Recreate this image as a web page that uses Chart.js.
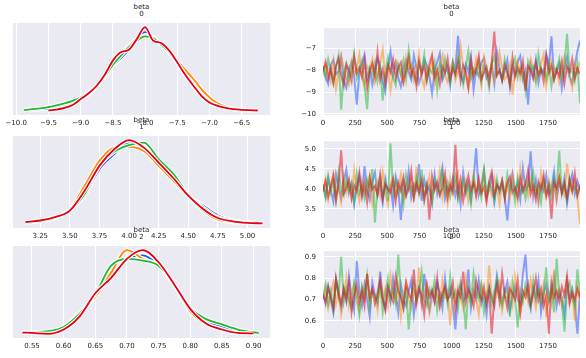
<!DOCTYPE html>
<html>
<head>
<meta charset="utf-8">
<script src="https://cdn.jsdelivr.net/npm/chart.js@4.4.1/dist/chart.umd.min.js"></script>
<style>
  body { margin: 0; width: 586px; height: 358px; background: #fff; position: relative; overflow: hidden; font-family: "DejaVu Sans", sans-serif; }
  canvas { position: absolute; }
  .title { position: absolute; width: 257px; text-align: center; font-size: 7px; line-height: 7px; color: #262626; white-space: pre; }
</style>
</head>
<body>
<script>
// chain colours: blue, orange, green, red
const chainColors = ['30,80,255', '255,135,10', '30,185,50', '230,0,20'];
const varTitles = ['beta\n0', 'beta\n1', 'beta\n2'];

// ---- density (left column) ----
const kdeGrid0 = [-9.875,-9.75,-9.625,-9.5,-9.375,-9.25,-9.125,-9.0,-8.875,-8.75,
  -8.625,-8.5,-8.375,-8.25,-8.125,-8.0,-7.875,-7.75,-7.625,-7.5,
  -7.375,-7.25,-7.125,-7.0,-6.875,-6.75,-6.625,-6.5,-6.375,-6.25];
const kde0Blue   = [0.01,0.015,0.02,0.03,0.045,0.07,0.10,0.15,0.22,0.31, 0.42,0.54,0.63,0.73,0.85,0.94,0.88,0.79,0.70,0.58, 0.44,0.30,0.19,0.11,0.065,0.04,0.025,0.015,0.01,null];
const kde0Orange = [null,null,null,0.005,0.02,0.045,0.085,0.14,0.20,0.29, 0.41,0.56,0.68,0.78,0.86,0.90,0.88,0.79,0.70,0.60, 0.49,0.38,0.26,0.16,0.09,0.05,0.025,0.01,null,null];
const kde0Green  = [0.01,0.02,0.03,0.045,0.065,0.09,0.12,0.16,0.22,0.30, 0.41,0.55,0.66,0.76,0.84,0.89,0.87,0.79,0.70,0.58, 0.43,0.29,0.18,0.10,0.06,0.035,0.02,0.01,0.005,null];
const kde0Red    = [null,null,null,0.005,0.015,0.035,0.07,0.14,0.21,0.30, 0.43,0.60,0.70,0.73,0.86,1.0,0.84,0.81,0.72,0.58, 0.43,0.30,0.18,0.10,0.06,0.035,0.02,0.012,0.008,0.004];

const kdeGrid1 = [3.125,3.25,3.375,3.5,3.625,3.75,3.875,4.0,4.125,4.25,4.375,4.5,4.625,4.75,4.875,5.0,5.125];
const kde1Blue   = [0.02,0.04,0.08,0.16,0.34,0.66,0.84,0.97,0.93,0.76,0.55,0.34,0.22,0.10,0.04,0.02,0.01];
const kde1Orange = [0.02,0.04,0.08,0.17,0.46,0.76,0.92,0.93,0.88,0.70,0.52,0.33,0.16,0.05,0.02,0.01,null];
const kde1Green  = [0.015,0.03,0.07,0.16,0.36,0.70,0.87,0.95,0.98,0.78,0.60,0.35,0.20,0.08,0.04,0.015,null];
const kde1Red    = [0.02,0.04,0.08,0.16,0.40,0.70,0.90,1.01,0.92,0.74,0.55,0.34,0.18,0.07,0.03,0.012,0.005];

const kdeGrid2 = [0.535,0.55,0.575,0.6,0.625,0.65,0.675,0.7,0.725,0.75,0.775,0.8,0.825,0.85,0.875,0.9,0.908];
const kde2Blue   = [0.01,0.01,0.02,0.07,0.23,0.45,0.77,0.88,0.91,0.79,0.57,0.30,0.15,0.09,0.03,0.01,0.008];
const kde2Orange = [0.01,0.01,0.02,0.08,0.25,0.43,0.71,0.97,0.87,0.79,0.56,0.26,0.11,0.04,0.015,0.01,null];
const kde2Green  = [0.01,0.015,0.03,0.08,0.23,0.46,0.79,0.87,0.85,0.79,0.57,0.30,0.17,0.11,0.05,0.018,0.012];
const kde2Red    = [0.015,0.01,0.0,0.05,0.20,0.47,0.65,0.87,0.97,0.83,0.57,0.29,0.12,0.05,0.01,0.005,null];

// axis limits and tick labels
const range0 = [-10.05, -6.06];
const range1 = [3.02, 5.19];
const range2 = [0.52, 0.926];
const kdeTicks0 = [-10, -9.5, -9, -8.5, -8, -7.5, -7, -6.5];
const kdeLabels0 = ['\u221210.0', '\u22129.5', '\u22129.0', '\u22128.5', '\u22128.0', '\u22127.5', '\u22127.0', '\u22126.5'];
const kdeTicks1 = [3.25, 3.5, 3.75, 4.0, 4.25, 4.5, 4.75, 5.0];
const kdeLabels1 = ['3.25', '3.50', '3.75', '4.00', '4.25', '4.50', '4.75', '5.00'];
const kdeTicks2 = [0.55, 0.6, 0.65, 0.7, 0.75, 0.8, 0.85, 0.9];
const kdeLabels2 = ['0.55', '0.60', '0.65', '0.70', '0.75', '0.80', '0.85', '0.90'];

// ---- traces (right column), thinned draws ----
const drawTicks = [0, 250, 500, 750, 1000, 1250, 1500, 1750];
const drawLabels = ['0', '250', '500', '750', '1000', '1250', '1500', '1750'];
const traceTicks0 = [-10, -9, -8, -7];
const traceLabels0 = ['\u221210', '\u22129', '\u22128', '\u22127'];
const traceTicks1 = [3.5, 4.0, 4.5, 5.0];
const traceLabels1 = ['3.5', '4.0', '4.5', '5.0'];
const traceTicks2 = [0.6, 0.7, 0.8, 0.9];
const traceLabels2 = ['0.6', '0.7', '0.8', '0.9'];

const trace0Blue = [-7.85,-8.31,-8.62,-7.74,-7.52,-8.18,-8.04,-7.39,-8.47,-8.80,
  -7.96,-7.63,-8.25,-9.58,-8.11,-7.70,-7.28,-8.39,-7.93,-8.66,
  -8.02,-7.45,-7.81,-8.53,-8.97,-7.88,-7.14,-8.21,-7.67,-8.35,
  -8.74,-7.99,-7.56,-8.09,-8.42,-7.31,-7.90,-8.58,-8.16,-7.48,
  -7.77,-8.29,-9.05,-8.01,-7.62,-7.21,-8.44,-8.13,-7.84,-8.69,
  -7.58,-7.95,-6.41,-8.23,-8.51,-7.72,-8.06,-7.37,-8.88,-7.98,
  -8.27,-7.65,-7.43,-8.35,-8.12,-7.80,-8.61,-7.16,-7.91,-8.46,
  -8.05,-7.53,-8.78,-7.87,-8.19,-7.60,-7.34,-8.40,-8.00,-9.57,
  -7.75,-8.26,-7.49,-8.56,-7.92,-8.14,-7.24,-7.83,-6.43,-8.37,
  -8.08,-7.69,-8.82,-7.97,-7.40,-8.31,-8.59,-7.78,-7.12,-6.63];
const trace0Orange = [-8.22,-7.71,-7.95,-8.49,-7.58,-8.83,-8.07,-7.36,-7.89,-8.41,
  -8.66,-7.62,-8.14,-7.93,-7.27,-8.32,-8.71,-7.81,-8.03,-7.49,
  -8.55,-8.18,-7.66,-7.04,-8.38,-7.87,-8.92,-8.10,-7.55,-7.79,
  -8.27,-8.60,-7.42,-8.01,-7.74,-8.46,-7.97,-7.21,-8.35,-8.76,
  -7.84,-8.12,-7.51,-8.64,-8.04,-7.69,-7.30,-8.24,-8.53,-7.92,
  -7.61,-8.45,-8.09,-6.88,-7.83,-8.31,-8.85,-7.76,-8.16,-7.47,
  -8.02,-8.69,-7.38,-7.90,-8.28,-7.64,-8.50,-8.06,-7.19,-7.86,
  -8.41,-8.21,-7.72,-9.12,-7.98,-7.56,-8.34,-7.80,-8.62,-8.11,
  -7.45,-7.93,-8.47,-8.19,-7.67,-7.25,-8.73,-8.00,-7.59,-8.36,
  -7.88,-8.57,-8.13,-7.41,-7.96,-8.30,-8.81,-7.74,-8.08,-7.63];
const trace0Green = [-7.76,-8.28,-7.49,-8.05,-8.61,-7.87,-7.33,-9.81,-8.14,-7.69,
  -8.43,-7.95,-7.22,-8.36,-8.02,-7.58,-8.74,-9.78,-7.91,-8.19,
  -7.64,-8.51,-7.84,-9.38,-8.09,-7.41,-7.99,-8.32,-8.68,-7.73,
  -8.17,-7.53,-8.40,-7.06,-7.89,-8.25,-8.57,-7.66,-8.03,-7.29,
  -8.46,-7.92,-8.12,-7.61,-8.89,-7.80,-8.30,-7.46,-7.97,-8.58,
  -7.70,-8.21,-7.37,-8.07,-8.66,-7.86,-7.12,-8.38,-7.94,-8.15,
  -7.57,-8.49,-7.82,-8.04,-8.79,-7.68,-7.35,-8.26,-7.98,-8.44,
  -7.51,-8.10,-8.63,-7.77,-7.43,-8.33,-7.90,-8.20,-8.95,-7.60,
  -8.01,-7.83,-8.54,-7.26,-8.13,-7.97,-8.41,-7.65,-8.72,-7.88,
  -8.06,-7.48,-8.35,-7.79,-6.32,-8.16,-7.93,-8.48,-7.71,-9.51];
const trace0Red = [-8.04,-7.61,-8.37,-7.92,-8.55,-7.80,-7.44,-8.21,-8.69,-7.73,
  -7.97,-8.48,-7.35,-8.12,-7.86,-8.30,-7.54,-8.81,-8.07,-7.68,
  -8.26,-7.15,-8.42,-7.95,-8.60,-7.77,-8.10,-7.49,-8.35,-7.88,
  -7.63,-8.53,-8.01,-7.39,-8.24,-7.90,-8.72,-7.58,-8.16,-7.82,
  -8.45,-7.70,-7.29,-8.33,-7.98,-8.64,-7.83,-8.09,-7.46,-8.39,
  -7.91,-8.19,-7.62,-8.50,-7.76,-8.03,-8.77,-7.52,-8.28,-7.94,
  -7.33,-8.41,-8.13,-7.85,-8.58,-7.67,-6.21,-8.22,-7.99,-8.46,
  -7.74,-8.07,-8.66,-7.41,-8.31,-7.89,-8.15,-7.57,-8.93,-7.81,
  -8.02,-8.38,-7.64,-8.20,-7.93,-8.52,-7.36,-8.11,-7.79,-8.44,
  -7.96,-8.27,-7.59,-8.61,-7.84,-8.06,-7.47,-8.34,-7.92,-8.17];

const trace1Blue = [4.12,3.81,4.27,3.95,3.68,4.36,4.05,3.77,4.21,4.48,
  3.90,4.14,3.62,4.02,4.33,3.86,4.57,3.97,3.73,4.18,
  4.41,3.84,4.09,3.66,4.25,3.93,4.06,3.58,4.30,4.01,
  3.22,4.16,3.88,4.44,3.79,4.11,3.98,4.62,3.70,4.23,
  3.92,4.07,3.64,4.35,3.87,4.19,4.53,3.76,4.03,3.96,
  4.28,3.83,4.10,3.61,4.40,3.94,4.15,3.72,4.24,5.02,
  3.85,4.08,4.46,3.78,3.99,4.31,3.67,4.13,3.91,4.20,
  3.80,3.21,4.04,4.38,3.89,4.17,3.74,4.51,3.97,4.06,
  4.94,3.82,4.22,3.69,4.11,3.95,4.34,3.86,4.00,4.43,
  3.75,4.14,3.92,4.27,3.63,4.09,4.36,3.88,4.19,3.98];
const trace1Orange = [3.96,4.23,3.74,4.10,4.39,3.85,4.02,3.67,4.29,3.91,
  4.15,3.79,4.47,3.98,3.70,4.21,3.88,4.06,4.34,3.62,
  4.00,4.18,3.83,4.42,3.93,3.59,4.12,4.27,3.81,4.04,
  4.36,3.76,4.09,3.95,4.24,3.68,4.55,3.90,4.13,3.84,
  4.01,4.31,3.72,4.07,3.97,4.45,3.80,4.19,3.64,4.26,
  3.89,4.11,4.38,3.77,4.03,4.22,3.69,3.99,4.33,3.86,
  4.16,3.94,4.42,3.73,4.08,3.85,4.28,4.01,3.61,4.20,
  3.92,4.14,3.78,4.35,4.05,3.70,4.49,3.96,4.17,3.82,
  4.25,3.88,4.06,3.66,4.40,4.02,3.79,4.21,3.93,4.12,
  3.71,4.30,3.98,3.84,4.63,4.08,3.90,4.19,3.76,3.12];
const trace1Green = [4.06,3.78,4.31,3.92,4.18,3.71,4.43,4.00,3.84,4.25,
  3.95,4.12,3.65,4.37,3.89,4.08,3.76,4.22,3.98,4.50,
  3.16,4.03,4.29,3.82,4.14,3.69,5.14,3.93,4.20,3.87,
  4.10,3.61,4.34,3.97,4.05,3.80,4.26,3.90,4.48,3.74,
  4.13,3.96,3.67,4.23,4.02,3.83,4.39,3.91,4.17,3.79,
  4.07,4.32,3.72,3.99,4.21,3.86,4.11,3.63,4.28,3.94,
  4.04,3.77,4.46,3.88,4.15,4.00,3.70,4.24,3.92,4.09,
  3.81,4.36,3.96,4.12,3.68,4.27,3.89,4.05,3.75,4.19,
  3.99,4.41,3.85,4.08,3.66,4.22,3.93,4.14,3.80,4.30,
  4.02,4.95,3.87,4.16,3.73,4.25,3.97,4.06,3.83,4.11];
const trace1Red = [3.93,4.19,3.80,4.05,4.32,3.71,4.12,4.96,3.88,4.01,
  4.24,3.76,4.09,3.94,4.40,3.83,4.15,3.66,4.27,3.98,
  4.07,3.86,4.35,3.74,4.11,4.00,3.90,4.22,3.69,4.16,
  3.95,4.29,3.82,4.04,4.45,3.79,4.13,3.91,4.20,3.72,
  4.08,3.23,4.31,3.97,4.17,3.85,4.02,4.38,3.78,4.10,
  3.92,5.10,3.87,4.23,3.70,4.06,4.33,3.96,4.14,3.81,
  4.26,3.89,4.04,3.67,4.19,4.42,3.84,4.09,3.99,4.21,
  3.75,4.13,4.30,3.90,4.03,3.79,4.25,3.94,4.11,4.47,
  3.86,4.07,3.73,4.18,3.98,4.34,3.82,4.05,3.25,4.15,
  4.01,4.28,3.88,4.12,3.77,4.22,3.95,4.39,3.84,4.08];

const trace2Blue = [0.73,0.68,0.76,0.70,0.64,0.79,0.72,0.66,0.75,0.69,
  0.81,0.71,0.65,0.88,0.74,0.67,0.77,0.70,0.62,0.78,
  0.72,0.68,0.83,0.71,0.66,0.75,0.69,0.80,0.73,0.64,
  0.77,0.70,0.67,0.74,0.79,0.63,0.72,0.76,0.68,0.82,
  0.71,0.65,0.74,0.69,0.78,0.73,0.66,0.80,0.70,0.75,
  0.67,0.56,0.73,0.77,0.69,0.71,0.84,0.66,0.74,0.70,
  0.79,0.68,0.72,0.63,0.76,0.71,0.67,0.81,0.74,0.69,
  0.73,0.78,0.65,0.71,0.76,0.70,0.68,0.82,0.91,0.72,
  0.66,0.75,0.70,0.79,0.64,0.73,0.77,0.69,0.72,0.80,
  0.67,0.74,0.71,0.63,0.78,0.70,0.75,0.68,0.54,0.73];
const trace2Orange = [0.70,0.75,0.66,0.72,0.78,0.68,0.74,0.63,0.71,0.80,
  0.67,0.73,0.77,0.69,0.64,0.76,0.71,0.82,0.68,0.74,
  0.72,0.65,0.79,0.70,0.75,0.67,0.81,0.73,0.69,0.76,
  0.62,0.72,0.78,0.70,0.66,0.74,0.71,0.85,0.68,0.73,
  0.77,0.64,0.70,0.75,0.72,0.67,0.79,0.71,0.74,0.58,
  0.73,0.69,0.76,0.71,0.66,0.80,0.72,0.68,0.75,0.70,
  0.63,0.77,0.73,0.69,0.86,0.71,0.67,0.74,0.78,0.65,
  0.72,0.70,0.76,0.68,0.81,0.73,0.64,0.71,0.75,0.69,
  0.79,0.72,0.66,0.74,0.70,0.77,0.62,0.73,0.68,0.84,
  0.71,0.75,0.67,0.72,0.79,0.69,0.74,0.60,0.76,0.70];
const trace2Green = [0.71,0.77,0.68,0.74,0.65,0.79,0.72,0.90,0.69,0.75,
  0.70,0.66,0.78,0.73,0.63,0.76,0.71,0.81,0.67,0.74,
  0.72,0.69,0.77,0.64,0.73,0.80,0.70,0.75,0.68,0.91,
  0.72,0.66,0.76,0.56,0.71,0.78,0.69,0.74,0.83,0.70,
  0.67,0.75,0.72,0.79,0.65,0.73,0.70,0.76,0.68,0.81,
  0.71,0.74,0.66,0.78,0.72,0.56,0.75,0.69,0.82,0.73,
  0.70,0.77,0.64,0.72,0.76,0.68,0.74,0.80,0.71,0.67,
  0.75,0.73,0.62,0.78,0.70,0.57,0.74,0.69,0.77,0.72,
  0.66,0.79,0.71,0.75,0.68,0.73,0.85,0.70,0.76,0.64,
  0.89,0.72,0.69,0.55,0.74,0.78,0.71,0.67,0.84,0.73];
const trace2Red = [0.72,0.69,0.76,0.71,0.66,0.80,0.73,0.68,0.75,0.70,
  0.78,0.64,0.72,0.77,0.69,0.74,0.67,0.82,0.71,0.75,
  0.68,0.73,0.79,0.70,0.65,0.76,0.72,0.69,0.81,0.74,
  0.71,0.66,0.78,0.73,0.70,0.84,0.68,0.75,0.72,0.63,
  0.77,0.71,0.74,0.69,0.80,0.67,0.73,0.76,0.70,0.72,
  0.78,0.65,0.74,0.71,0.83,0.69,0.75,0.72,0.67,0.79,
  0.73,0.70,0.76,0.68,0.74,0.54,0.71,0.77,0.69,0.82,
  0.72,0.66,0.75,0.73,0.70,0.79,0.64,0.74,0.71,0.77,
  0.68,0.73,0.80,0.70,0.75,0.67,0.72,0.54,0.78,0.71,
  0.74,0.69,0.76,0.72,0.81,0.68,0.73,0.70,0.75,0.71];

// draw index of each kept value (every ~20th of 2000 draws)
const draws = trace0Blue.map((v, i) => i * 1999 / (trace0Blue.length - 1));

// layout (pixels)
const rowTops = [23, 136, 246];
const plotW = 257, plotH = 92;
const leftX = 13, rightX = 323;
const axisH = 20;

const tickFont = { family: 'DejaVu Sans', size: 7 };
const tickColor = '#262626';

const panelBg = {
  id: 'panelBg',
  beforeDraw(chart) {
    const a = chart.chartArea;
    const ctx = chart.ctx;
    ctx.save();
    ctx.fillStyle = '#EAEAF2';
    ctx.fillRect(a.left, a.top, a.right - a.left, a.bottom - a.top);
    ctx.restore();
  }
};

function makeCanvas(left, top, w, h) {
  const c = document.createElement('canvas');
  c.width = w; c.height = h;
  c.style.left = left + 'px'; c.style.top = top + 'px';
  c.style.width = w + 'px'; c.style.height = h + 'px';
  document.body.appendChild(c);
  return c;
}

function xAxis(range, ticks, labels) {
  return {
    type: 'linear', min: range[0], max: range[1],
    afterBuildTicks: s => { s.ticks = ticks.map(v => ({ value: v })); },
    afterFit: s => { s.height = axisH; },
    ticks: { autoSkip: false, maxRotation: 0, padding: 4, color: tickColor, font: tickFont,
      callback: (v, i) => labels[i] },
    grid: { color: '#fff', lineWidth: 1, drawTicks: false },
    border: { display: false }
  };
}

function kdeChart(row, grid, chains, range, ticks, labels) {
  const canvas = makeCanvas(0, rowTops[row], leftX + plotW + 10, plotH + axisH);
  const peak = Math.max(...chains.flat().filter(v => v !== null));
  const datasets = [];
  chains.forEach((vals, c) => {
    // white halo under each density line
    datasets.push({
      data: grid.map((x, i) => ({ x: x, y: vals[i] })),
      borderColor: '#ffffff', borderWidth: 4, order: 8 - 2 * c
    });
    datasets.push({
      data: grid.map((x, i) => ({ x: x, y: vals[i] })),
      borderColor: 'rgb(' + chainColors[c] + ')', borderWidth: 1.8, order: 7 - 2 * c
    });
  });
  new Chart(canvas, {
    type: 'line',
    data: { datasets: datasets },
    options: {
      responsive: false, animation: false, events: [],
      layout: { padding: { left: leftX, right: 10, top: 0, bottom: 0 } },
      elements: { point: { radius: 0 }, line: { cubicInterpolationMode: 'monotone', fill: false } },
      plugins: { legend: { display: false }, tooltip: { enabled: false } },
      scales: {
        x: xAxis(range, ticks, labels),
        y: { display: false, min: -0.05 * peak, max: 1.05 * peak }
      }
    },
    plugins: [panelBg]
  });
}

function traceChart(row, chains, range, xt, xl, yt, yl) {
  const canvas = makeCanvas(rightX - 30, rowTops[row] - 6, 30 + plotW + 6, 6 + plotH + axisH);
  const datasets = chains.map((vals, c) => ({
    data: draws.map((d, i) => ({ x: d, y: vals[i] })),
    borderColor: 'rgba(' + chainColors[c] + ',0.5)', borderWidth: 2, order: 4 - c
  }));
  new Chart(canvas, {
    type: 'line',
    data: { datasets: datasets },
    options: {
      responsive: false, animation: false, events: [],
      layout: { padding: { left: 0, right: 6, top: 6, bottom: 0 } },
      elements: { point: { radius: 0 }, line: { tension: 0, fill: false } },
      plugins: { legend: { display: false }, tooltip: { enabled: false } },
      scales: {
        x: xAxis([0, 1999], xt, xl),
        y: {
          type: 'linear', min: range[0], max: range[1],
          afterBuildTicks: s => { s.ticks = yt.map(v => ({ value: v })); },
          afterFit: s => { s.width = 30; },
          ticks: { autoSkip: false, padding: 7, color: tickColor, font: tickFont,
            callback: (v, i) => yl[i] },
          grid: { color: '#fff', lineWidth: 1, drawTicks: false },
          border: { display: false }
        }
      }
    },
    plugins: [panelBg]
  });
}

kdeChart(0, kdeGrid0, [kde0Blue, kde0Orange, kde0Green, kde0Red], range0, kdeTicks0, kdeLabels0);
kdeChart(1, kdeGrid1, [kde1Blue, kde1Orange, kde1Green, kde1Red], range1, kdeTicks1, kdeLabels1);
kdeChart(2, kdeGrid2, [kde2Blue, kde2Orange, kde2Green, kde2Red], range2, kdeTicks2, kdeLabels2);

traceChart(0, [trace0Blue, trace0Orange, trace0Green, trace0Red], range0, drawTicks, drawLabels, traceTicks0, traceLabels0);
traceChart(1, [trace1Blue, trace1Orange, trace1Green, trace1Red], range1, drawTicks, drawLabels, traceTicks1, traceLabels1);
traceChart(2, [trace2Blue, trace2Orange, trace2Green, trace2Red], range2, drawTicks, drawLabels, traceTicks2, traceLabels2);

// panel titles drawn last so they sit over the tick labels like in the original
rowTops.forEach((top, r) => {
  [leftX, rightX].forEach(x => {
    const t = document.createElement('div');
    t.className = 'title';
    t.textContent = varTitles[r];
    t.style.left = x + 'px';
    t.style.top = (top - 19) + 'px';
    document.body.appendChild(t);
  });
});
</script>
</body>
</html>
